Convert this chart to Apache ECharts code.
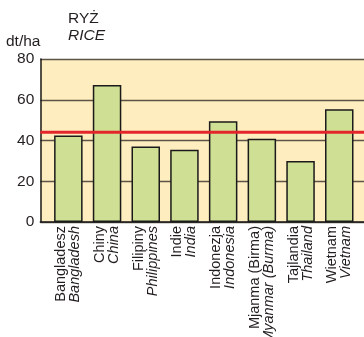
<!DOCTYPE html>
<html>
<head>
<meta charset="utf-8">
<script src="https://cdn.jsdelivr.net/npm/echarts@6/dist/echarts.min.js"></script>
<style>
html,body{margin:0;padding:0;background:#fff;}
#c{width:364px;height:337px;}
</style>
</head>
<body>
<div id="c"></div>
<script>
const categoriesPl = ['Bangladesz','Chiny','Filipiny','Indie','Indonezja','Mjanma (Birma)','Tajlandia','Wietnam'];
const categoriesEn = ['Bangladesh','China','Philippines','India','Indonesia','Myanmar (Burma)','Thailand','Vietnam'];
const riceYield = [42.5, 67.2, 37.1, 35.4, 49.4, 40.8, 30.0, 55.3];
const averageYield = [44, 44];
const yMin = 0, yMax = 80, yStep = 20;

const FONT = '"Liberation Sans", Arial, sans-serif';
const chart = echarts.init(document.getElementById('c'), null, {renderer:'canvas'});

chart.setOption({
  animation: false,
  backgroundColor: '#ffffff',
  textStyle: {fontFamily: FONT, color: '#231f20'},
  graphic: [
    {type:'text', left: 68, top: 11, style:{text:'RYŻ', font:'15.5px '+FONT, fill:'#231f20'}},
    {type:'text', left: 68, top: 28, style:{text:'RICE', font:'italic 15.5px '+FONT, fill:'#231f20'}},
    {type:'text', left: 6, top: 34, style:{text:'dt/ha', font:'15.5px '+FONT, fill:'#231f20'}}
  ],
  grid: [
    {left: 49, right: 5.4, top: 59, bottom: 115, containLabel: false, outerBoundsMode: 'none'},
    {left: 40.3, right: -6, top: 59, bottom: 115, show: true, backgroundColor: '#feedbf', borderWidth: 0, containLabel: false, outerBoundsMode: 'none'}
  ],
  xAxis: [
    {
      type: 'category', gridIndex: 0, data: categoriesPl,
      boundaryGap: true,
      axisLine: {show: false}, axisTick: {show: false},
      axisLabel: {
        rotate: 90, margin: 4, interval: 0, hideOverlap: false,
        formatter: function (v, i) { return '{a|' + v + '}\n{b|' + categoriesEn[i] + '}'; },
        rich: {
          a: {fontSize: 14.5, lineHeight: 14, fontFamily: FONT, color: '#231f20'},
          b: {fontSize: 14.5, lineHeight: 14, fontFamily: FONT, fontStyle: 'italic', color: '#231f20'}
        }
      }
    },
    {
      type: 'value', gridIndex: 1, min: 0, max: 1,
      axisLine: {show: true, onZero: false, lineStyle: {color: '#1a1a1a', width: 1.5}},
      axisTick: {show: false}, axisLabel: {show: false}, splitLine: {show: false}
    }
  ],
  yAxis: [
    {type: 'value', gridIndex: 0, min: yMin, max: yMax, interval: yStep, show: false},
    {
      type: 'value', gridIndex: 1, min: yMin, max: yMax, interval: yStep,
      axisLine: {show: true, lineStyle: {color: '#1a1a1a', width: 1.5}},
      axisTick: {show: false},
      axisLabel: {fontSize: 15.5, margin: 6, color: '#231f20', fontFamily: FONT},
      splitLine: {show: true, lineStyle: {color: '#5c5446', width: 1.3}}
    }
  ],
  series: [
    {
      type: 'bar', xAxisIndex: 0, yAxisIndex: 0, data: riceYield,
      barWidth: 28.5, z: 3,
      itemStyle: {color: '#cfe095', borderColor: '#1a1a1a', borderWidth: 1.5}
    },
    {
      type: 'line', xAxisIndex: 1, yAxisIndex: 1,
      data: averageYield.map(function (v, i) { return [i, v]; }),
      symbol: 'none', z: 6, silent: true,
      lineStyle: {color: '#e3262b', width: 3}
    }
  ]
});
</script>
</body>
</html>
